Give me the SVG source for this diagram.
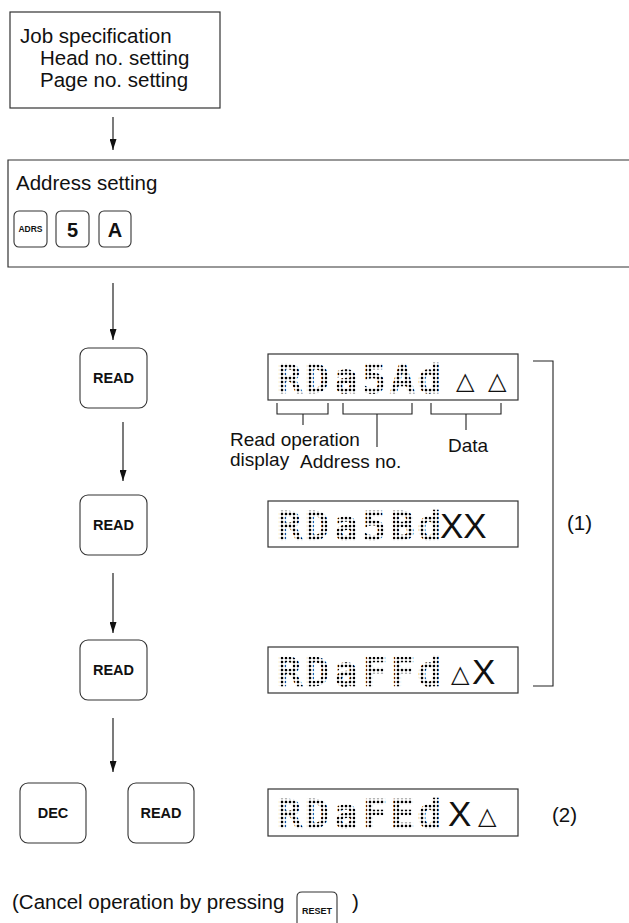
<svg xmlns="http://www.w3.org/2000/svg" width="629" height="923" viewBox="0 0 629 923">
<defs>
<pattern id="dot" patternUnits="userSpaceOnUse" x="0" y="0" width="4" height="4">
<circle cx="2" cy="2" r="1.25" fill="#000"/>
</pattern>
<marker id="arr" viewBox="0 0 11 7" refX="11" refY="3.5" markerWidth="11" markerHeight="7" markerUnits="userSpaceOnUse" orient="auto">
<path d="M0,0 L11,3.5 L0,7 Z" fill="#111"/>
</marker>
</defs>
<style>
.box{fill:#fff;stroke:#333;stroke-width:1.2}
.key{fill:#fff;stroke:#333;stroke-width:1.1}
.t{font-family:"Liberation Sans",Arial,sans-serif;fill:#111;font-size:20.5px}
.lb{font-family:"Liberation Sans",Arial,sans-serif;fill:#111;font-size:19px}
.kb{font-family:"Liberation Sans",Arial,sans-serif;font-weight:bold;fill:#111;text-anchor:middle}
.dm{font-family:"DejaVu Sans Mono",monospace;font-size:38px;fill:url(#dot);stroke:url(#dot);stroke-width:2.5}
.big{font-family:"Liberation Sans",Arial,sans-serif;font-size:35px;fill:#111}
.tri{font-family:"DejaVu Sans",sans-serif;font-size:24px;fill:#111}
.ln{fill:none;stroke:#222;stroke-width:1.1}
.con{fill:none;stroke:#222;stroke-width:1.2;marker-end:url(#arr)}
</style>

<g id="connectors">
<line class="con" x1="113" y1="117" x2="113" y2="150"/>
<line class="con" x1="113" y1="283" x2="113" y2="340"/>
<line class="con" x1="123" y1="422" x2="123" y2="481"/>
<line class="con" x1="113" y1="573" x2="113" y2="633"/>
<line class="con" x1="113" y1="718" x2="113" y2="772"/>
</g>

<g id="job">
<rect class="box" x="10" y="12" width="210" height="96"/>
<text class="t" x="20" y="43">Job specification</text>
<text class="t" x="40" y="65">Head no. setting</text>
<text class="t" x="40" y="87">Page no. setting</text>
</g>

<g id="address">
<path class="box" d="M640,160 H8 V267 H640"/>
<text class="t" x="16" y="190">Address setting</text>
<rect class="key" x="14" y="211" width="33" height="36" rx="5"/>
<text class="kb" x="30.5" y="232" font-size="8.5">ADRS</text>
<rect class="key" x="56" y="211" width="33" height="36" rx="5"/>
<text class="kb" x="72.5" y="237" font-size="20">5</text>
<rect class="key" x="99" y="211" width="32" height="36" rx="5"/>
<text class="kb" x="115" y="237" font-size="20">A</text>
</g>

<g id="read1">
<rect class="key" x="80" y="348" width="67" height="60" rx="8"/>
<text class="kb" x="113.5" y="383" font-size="14.5">READ</text>
</g>
<g id="read2">
<rect class="key" x="80" y="495" width="67" height="60" rx="8"/>
<text class="kb" x="113.5" y="530" font-size="14.5">READ</text>
</g>
<g id="read3">
<rect class="key" x="80" y="640" width="67" height="60" rx="8"/>
<text class="kb" x="113.5" y="675" font-size="14.5">READ</text>
</g>
<g id="dec">
<rect class="key" x="20" y="783" width="66" height="60" rx="8"/>
<text class="kb" x="53" y="818" font-size="14.5">DEC</text>
</g>
<g id="read4">
<rect class="key" x="128" y="783" width="66" height="60" rx="8"/>
<text class="kb" x="161" y="818" font-size="14.5">READ</text>
</g>

<g id="display1">
<rect class="box" x="268" y="354" width="250" height="46"/>
<text class="dm" x="278 306 335 363 391 418" y="392">RDa5Ad</text>
<text class="tri" x="456" y="389">△</text>
<text class="tri" x="488" y="389">△</text>
<path class="ln" d="M277,403 V414 H328 V403 M303,414 V425 M343,403 V414 H412 V403 M377,414 V447 M431,403 V414 H501 V403 M466,414 V430"/>
<text class="lb" x="230" y="446">Read operation</text>
<text class="lb" x="230" y="466">display</text>
<text class="lb" x="300" y="468">Address no.</text>
<text class="lb" x="448" y="452">Data</text>
</g>

<g id="display2">
<rect class="box" x="268" y="501" width="250" height="46"/>
<text class="dm" x="278 306 335 363 391 418" y="539">RDa5Bd</text>
<text class="big" x="440" y="538">XX</text>
</g>

<g id="display3">
<rect class="box" x="268" y="647" width="250" height="46"/>
<text class="dm" x="278 306 335 363 391 418" y="685">RDaFFd</text>
<text class="tri" x="451" y="682">△</text>
<text class="big" x="472" y="684">X</text>
</g>

<g id="display4">
<rect class="box" x="268" y="789" width="250" height="47"/>
<text class="dm" x="278 306 335 363 391 418" y="827">RDaFEd</text>
<text class="big" x="448" y="826">X</text>
<text class="tri" x="478" y="824">△</text>
</g>

<g id="group1">
<path class="ln" d="M533,361 H553 V686 H533"/>
<text class="t" x="567" y="530">(1)</text>
</g>
<g id="group2">
<text class="t" x="552" y="822">(2)</text>
</g>

<g id="cancel">
<text class="t" x="12" y="909">(Cancel operation by pressing</text>
<path class="key" d="M297,923 V897 Q297,892 302,892 H332 Q337,892 337,897 V923"/>
<text class="kb" x="317" y="914" font-size="9">RESET</text>
<text class="t" x="352" y="909">)</text>
</g>
</svg>
